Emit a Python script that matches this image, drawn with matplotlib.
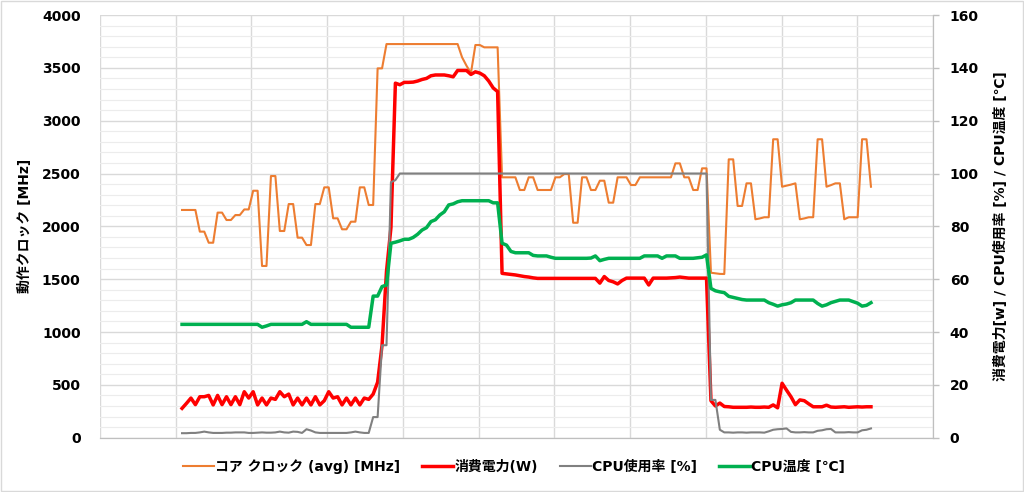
import matplotlib
matplotlib.use('Agg')
import matplotlib.pyplot as plt
from matplotlib.ticker import MultipleLocator, NullFormatter
from matplotlib.patches import Rectangle

plt.rcParams['font.family'] = ['DejaVu Sans', 'Noto Sans CJK JP']

# series names (legend)
labels = ['コア クロック (avg) [MHz]', '消費電力(W)', 'CPU使用率 [%]', 'CPU温度 [℃]']

# core clock [MHz], left axis
clock = [2155, 2155, 2155, 2155, 1950, 1950, 1845, 1845, 2130, 2130,
         2060, 2060, 2107, 2107, 2160, 2160, 2337, 2337, 1625, 1625,
         2476, 2476, 1956, 1956, 2211, 2211, 1893, 1893, 1823, 1823,
         2211, 2211, 2369, 2369, 2076, 2076, 1972, 1972, 2044, 2044,
         2369, 2369, 2202, 2202, 3495, 3495, 3725, 3725, 3725, 3725,
         3725, 3725, 3725, 3725, 3725, 3725, 3725, 3725, 3725, 3725,
         3725, 3725, 3725, 3600, 3520, 3450, 3716, 3716, 3694, 3694,
         3694, 3694, 2464, 2464, 2464, 2464, 2344, 2344, 2464, 2464,
         2344, 2344, 2344, 2344, 2464, 2464, 2495, 2495, 2034, 2034,
         2464, 2464, 2344, 2344, 2432, 2432, 2224, 2224, 2464, 2464,
         2464, 2391, 2391, 2464, 2464, 2464, 2464, 2464, 2464, 2464,
         2464, 2596, 2596, 2464, 2464, 2344, 2344, 2549, 2549, 1561,
         1556, 1550, 1549, 2634, 2634, 2193, 2193, 2407, 2407, 2067,
         2075, 2086, 2086, 2824, 2824, 2375, 2385, 2395, 2407, 2067,
         2075, 2086, 2086, 2824, 2824, 2375, 2390, 2407, 2407, 2067,
         2086, 2086, 2086, 2824, 2824, 2375]

# power [W], right axis
power = [11.1, 13.0, 15.0, 12.5, 15.5, 15.5, 16.0, 12.4, 16.0, 12.5,
         15.5, 12.5, 15.5, 12.5, 17.4, 15.0, 17.4, 12.4, 15.0, 12.4,
         15.0, 14.5, 17.4, 15.5, 16.5, 12.4, 15.0, 12.4, 15.0, 12.4,
         15.5, 12.4, 14.0, 17.4, 15.0, 15.5, 12.4, 15.0, 12.4, 15.0,
         12.4, 15.0, 14.5, 16.5, 21.0, 35.0, 63.0, 79.5, 134.2, 133.6,
         134.5, 134.5, 134.6, 135.0, 135.6, 136.0, 137.0, 137.3, 137.3, 137.3,
         137.0, 136.6, 139.0, 139.0, 139.0, 137.5, 138.5, 138.0, 137.0, 135.0,
         132.4, 131.0, 62.2, 62.0, 61.8, 61.6, 61.3, 61.0, 60.8, 60.5,
         60.3, 60.3, 60.3, 60.3, 60.3, 60.3, 60.3, 60.3, 60.3, 60.3,
         60.3, 60.3, 60.3, 60.3, 58.5, 61.0, 59.5, 59.0, 58.2, 59.5,
         60.4, 60.4, 60.4, 60.4, 60.4, 57.8, 60.4, 60.4, 60.4, 60.4,
         60.5, 60.6, 60.8, 60.6, 60.4, 60.4, 60.4, 60.4, 60.4, 14.0,
         12.0, 13.1, 11.8, 11.7, 11.5, 11.5, 11.5, 11.5, 11.6, 11.5,
         11.5, 11.6, 11.5, 12.4, 11.3, 20.6, 18.0, 15.5, 12.5, 14.3,
         14.0, 12.8, 11.7, 11.7, 11.7, 12.3, 11.6, 11.5, 11.6, 11.7,
         11.5, 11.6, 11.7, 11.6, 11.7, 11.7]

# CPU usage [%], right axis
usage = [1.7, 1.7, 1.8, 1.8, 2.0, 2.3, 2.0, 1.8, 1.8, 1.8,
         1.9, 1.9, 2.0, 2.0, 2.0, 1.8, 1.8, 1.9, 2.0, 1.9,
         1.9, 2.0, 2.3, 2.0, 1.9, 2.3, 2.2, 1.8, 3.2, 2.7,
         2.0, 1.8, 1.8, 1.8, 1.8, 1.8, 1.8, 1.8, 2.0, 2.3,
         2.0, 1.8, 1.8, 7.8, 7.8, 35.0, 35.0, 96.7, 97.5, 100,
         100, 100, 100, 100, 100, 100, 100, 100, 100, 100,
         100, 100, 100, 100, 100, 100, 100, 100, 100, 100,
         100, 100, 100, 100, 100, 100, 100, 100, 100, 100,
         100, 100, 100, 100, 100, 100, 100, 100, 100, 100,
         100, 100, 100, 100, 100, 100, 100, 100, 100, 100,
         100, 100, 100, 100, 100, 100, 100, 100, 100, 100,
         100, 100, 100, 100, 100, 100, 100, 100, 100, 14.3,
         14.3, 3.0, 2.0, 2.0, 1.9, 2.0, 2.0, 1.9, 2.0, 2.0,
         2.0, 1.9, 2.4, 3.0, 3.2, 3.3, 3.5, 2.2, 2.0, 2.0,
         2.1, 2.0, 2.0, 2.6, 2.8, 3.2, 3.3, 2.0, 2.0, 2.0,
         2.1, 2.0, 2.0, 2.8, 3.0, 3.5]

# CPU temperature [C], right axis
temp = [42.9, 42.9, 42.9, 42.9, 42.9, 42.9, 42.9, 42.9, 42.9, 42.9,
        42.9, 42.9, 42.9, 42.9, 42.9, 42.9, 42.9, 42.9, 41.8, 42.3,
        42.9, 42.9, 42.9, 42.9, 42.9, 42.9, 42.9, 42.9, 43.9, 42.9,
        42.9, 42.9, 42.9, 42.9, 42.9, 42.9, 42.9, 42.9, 41.8, 41.8,
        41.8, 41.8, 41.8, 53.6, 53.6, 57.2, 57.8, 73.6, 74.0, 74.5,
        75.1, 75.1, 75.8, 77.0, 78.6, 79.5, 81.8, 82.5, 84.3, 85.5,
        88.1, 88.5, 89.3, 89.7, 89.7, 89.7, 89.7, 89.7, 89.7, 89.7,
        88.9, 88.9, 73.6, 72.9, 70.5, 70.0, 70.0, 70.0, 70.0, 69.0,
        68.8, 68.8, 68.8, 68.3, 67.9, 67.9, 67.9, 67.9, 67.9, 67.9,
        67.9, 67.9, 68.0, 68.8, 67.0, 67.5, 67.9, 67.9, 67.9, 67.9,
        67.9, 67.9, 67.9, 67.9, 68.8, 68.8, 68.8, 68.8, 67.9, 68.8,
        68.8, 68.8, 67.9, 67.9, 67.9, 67.9, 68.1, 68.3, 69.2, 56.5,
        55.6, 55.2, 54.9, 53.5, 53.1, 52.7, 52.3, 52.1, 52.1, 52.1,
        52.1, 52.1, 51.1, 50.5, 49.8, 50.3, 50.6, 51.1, 52.1, 52.1,
        52.1, 52.1, 52.1, 50.8, 49.8, 50.3, 51.1, 51.6, 52.1, 52.1,
        52.1, 51.5, 50.9, 49.8, 50.1, 51.1]

x = list(range(len(clock)))

fig = plt.figure(figsize=(10.24, 4.92), dpi=100)
ax = fig.add_axes([0.0977, 0.1104, 0.8134, 0.8591])
ax2 = ax.twinx()

grid_major = '#d9d9d9'
grid_minor = '#ececec'

# left axis
ax.set_xlim(-18.45, 168.95)
ax.set_ylim(0, 4000)
ax.yaxis.set_major_locator(MultipleLocator(500))
ax.yaxis.set_minor_locator(MultipleLocator(100))
ax.set_xticks([-18.45 + 17.036 * k for k in range(12)])
ax.xaxis.set_major_formatter(NullFormatter())
ax.tick_params(axis='x', length=0)
ax.tick_params(axis='y', which='both', length=0, pad=14, labelsize=10)
for t in ax.get_yticklabels():
    t.set_fontweight('bold')
ax.grid(True, axis='x', color=grid_major, lw=1.0)
ax.grid(True, axis='y', which='major', color=grid_major, lw=1.0)
ax.grid(True, axis='y', which='minor', color=grid_minor, lw=0.8)
ax.set_axisbelow(True)

ax2.set_ylim(0, 160)
ax2.yaxis.set_major_locator(MultipleLocator(20))
ax2.tick_params(axis='y', length=4, width=1, color='#bfbfbf', pad=8, labelsize=10)
for t in ax2.get_yticklabels():
    t.set_fontweight('bold')

for a in (ax, ax2):
    a.spines['top'].set_visible(False)
    a.spines['left'].set_visible(False)
    a.spines['bottom'].set_color('#bfbfbf')
    a.spines['right'].set_color('#bfbfbf')

l1, = ax.plot(x, clock, color='#ED7D31', lw=1.5, solid_joinstyle='round')
l2, = ax2.plot(x, power, color='#FF0000', lw=2.5, solid_joinstyle='round')
l3, = ax2.plot(x, usage, color='#808080', lw=1.5, solid_joinstyle='round')
l4, = ax2.plot(x, temp, color='#00B050', lw=2.5, solid_joinstyle='round')

ax.set_ylabel('動作クロック [MHz]', fontsize=10, fontweight='bold')
ax.yaxis.set_label_coords(-0.0815, 0.5)
ax2.set_ylabel('消費電力[w] / CPU使用率 [%] / CPU温度 [℃]', fontsize=10,
               fontweight='bold', rotation=90)
ax2.yaxis.set_label_coords(1.073, 0.5)

fig.legend([l1, l2, l3, l4], labels, loc='center', bbox_to_anchor=(0.502, 0.051),
           ncol=4, frameon=False, prop={'size': 10, 'weight': 'bold'},
           handlelength=2.2, handletextpad=0.1, columnspacing=1.6)

fig.patches.append(Rectangle((0.001, 0.002), 0.998, 0.996, transform=fig.transFigure,
                             fill=False, edgecolor='#d9d9d9', lw=1.0))

fig.savefig('out.png', dpi=100)
